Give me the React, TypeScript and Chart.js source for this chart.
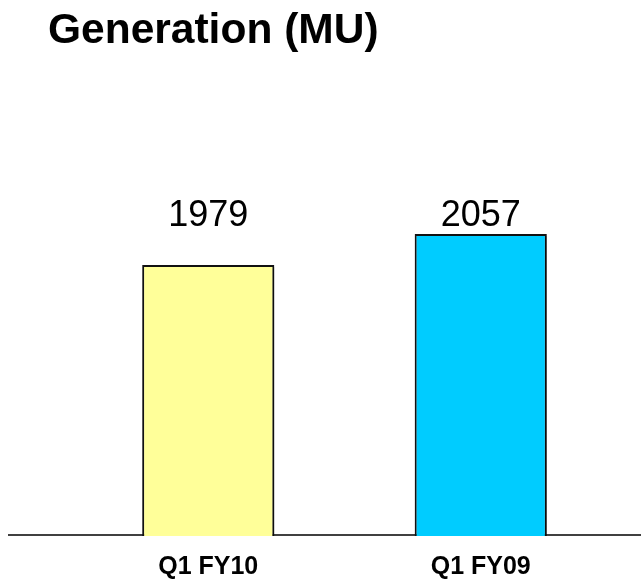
import React, { useEffect, useRef } from "react";
import { Chart, registerables } from "chart.js";

Chart.register(...registerables);

const titleText = "Generation (MU)";
const categories = ["Q1 FY10", "Q1 FY09"];
const generationMU = [1979, 2057];
const barColors = ["#FFFF99", "#00CCFF"];
const yMin = 1297;
const yMax = 2394;

const FONT = "'Liberation Sans', Arial, Helvetica, sans-serif";

export default function App() {
  const ref = useRef<HTMLCanvasElement>(null);

  useEffect(() => {
    if (!ref.current) return;

    const baselinePlugin = {
      id: "baseline",
      beforeDatasetsDraw(chart: any) {
        const { ctx, chartArea } = chart;
        ctx.save();
        ctx.strokeStyle = "#000";
        ctx.lineWidth = 1.5;
        ctx.beginPath();
        const y = chartArea.bottom - 1;
        ctx.moveTo(8, y);
        ctx.lineTo(chart.width, y);
        ctx.stroke();
        ctx.restore();
      },
    };

    const shadowPlugin = {
      id: "barShadow",
      beforeDatasetDraw(chart: any) {
        const ctx = chart.ctx;
        ctx.save();
        ctx.shadowColor = "rgba(0,0,0,0.25)";
        ctx.shadowOffsetX = 2;
        ctx.shadowOffsetY = 2;
        ctx.shadowBlur = 1;
      },
      afterDatasetDraw(chart: any) {
        chart.ctx.restore();
      },
    };

    const valueLabelPlugin = {
      id: "valueLabels",
      afterDatasetsDraw(chart: any) {
        const { ctx, chartArea } = chart;
        const meta = chart.getDatasetMeta(0);
        ctx.save();
        ctx.fillStyle = "#000";
        ctx.font = `36px ${FONT}`;
        ctx.textAlign = "center";
        ctx.textBaseline = "alphabetic";
        meta.data.forEach((bar: any, i: number) => {
          const v = chart.data.datasets[0].data[i];
          ctx.fillText(String(v), bar.x, chartArea.top + 126);
        });
        ctx.restore();
      },
    };

    const chart = new Chart(ref.current, {
      type: "bar",
      data: {
        labels: categories,
        datasets: [
          {
            data: generationMU,
            backgroundColor: barColors,
            borderColor: "#111",
            borderWidth: 2,
            borderSkipped: false,
            barPercentage: 0.485,
            categoryPercentage: 1,
          },
        ],
      },
      options: {
        responsive: false,
        animation: false,
        layout: { padding: { left: 72, right: 24, top: 100, bottom: -17 } },
        plugins: {
          legend: { display: false },
          tooltip: { enabled: false },
          title: { display: false },
        },
        scales: {
          x: {
            grid: { display: false, drawTicks: false, tickLength: 0 },
            border: { display: false },
            ticks: {
              color: "#000",
              padding: 16,
              font: { family: FONT, size: 25, weight: "bold", lineHeight: 1.2 },
            },
          },
          y: {
            display: false,
            min: yMin,
            max: yMax,
          },
        },
      },
      plugins: [baselinePlugin, shadowPlugin, valueLabelPlugin],
    });

    return () => chart.destroy();
  }, []);

  return (
    <div style={{ position: "absolute", left: 0, top: 0, width: 641, height: 581, background: "#fff" }}>
      <canvas ref={ref} width={641} height={581} style={{ position: "absolute", left: 0, top: 0 }} />
      <div
        style={{
          position: "absolute",
          left: 48,
          top: 5,
          fontFamily: FONT,
          fontWeight: "bold",
          fontSize: 42.5,
          lineHeight: "normal",
          color: "#000",
          whiteSpace: "nowrap",
        }}
      >
        {titleText}
      </div>
    </div>
  );
}
